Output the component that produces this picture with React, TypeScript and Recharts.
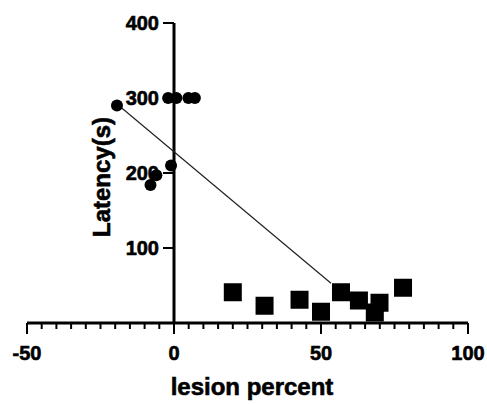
import { ScatterChart, Scatter, XAxis, YAxis, ReferenceLine } from 'recharts'

// sham group (circles)
const shamLesion = [-19.4, -2, 0.8, 4.9, 7.1, -1, -6, -8]
const shamLatency = [290, 300, 300, 300, 300, 210, 197, 184]

// lesion group (squares)
const lesionLesion = [20, 30.8, 42.7, 50, 56.8, 62.9, 69.9, 68.3, 77.9]
const lesionLatency = [41, 23, 31, 15, 41, 30, 27, 14, 47]

// fitted line end points
const fitLesion = [-19.4, 53.4]
const fitLatency = [292, 53]

const xTicks = [-50, -45, -40, -35, -30, -25, -20, -15, -10, -5, 0, 5, 10, 15, 20, 25, 30, 35, 40, 45, 50, 55, 60, 65, 70, 75, 80, 85, 90, 95, 100]
const xMajor = [-50, 0, 50, 100]
const yTicks = [100, 200, 300, 400]

const sham = shamLesion.map((x, i) => ({ x, y: shamLatency[i] }))
const lesion = lesionLesion.map((x, i) => ({ x, y: lesionLatency[i] }))
const fit = fitLesion.map((x, i) => ({ x, y: fitLatency[i] }))

const W = 487
const H = 405
const M = { top: 23, right: 19, bottom: 0, left: 26 }
const Y_AXIS_W = 1
const PLOT_L = M.left + Y_AXIS_W
const PLOT_W = W - PLOT_L - M.right
const X0 = PLOT_L + (PLOT_W * 50) / 150 // pixel of lesion = 0

const FONT = '"Liberation Sans", Arial, sans-serif'

const XTick = (p: any) => {
  const { x, y, payload } = p
  const major = xMajor.includes(payload.value)
  return (
    <g>
      <line x1={x} y1={y} x2={x} y2={y + (major ? 11 : 6)} stroke="#000" strokeWidth={2} />
      {major && (
        <text x={x} y={y + 37} textAnchor="middle" fontFamily={FONT} fontWeight="bold" fontSize={20}
          fill="#000" stroke="#000" strokeWidth={0.6}>
          {payload.value}
        </text>
      )}
    </g>
  )
}

const YTick = (p: any) => {
  const { y, payload } = p
  return (
    <g>
      <line x1={X0 - 11} y1={y} x2={X0} y2={y} stroke="#000" strokeWidth={2} />
      <text x={X0 - 15} y={y + 7} textAnchor="end" fontFamily={FONT} fontWeight="bold" fontSize={20}
        fill="#000" stroke="#000" strokeWidth={0.6}>
        {payload.value}
      </text>
    </g>
  )
}

const Circle = (p: any) => <circle cx={p.cx} cy={p.cy} r={6} fill="#000" />
const Square = (p: any) => <rect x={p.cx - 9} y={p.cy - 9} width={18} height={18} fill="#000" />

const titleStyle = {
  position: 'absolute' as const,
  fontFamily: FONT, fontWeight: 'bold', fontSize: 24, lineHeight: '24px',
  whiteSpace: 'nowrap' as const, color: '#000', WebkitTextStroke: '0.6px #000',
}

export default function App() {
  return (
    <div style={{ position: 'absolute', left: 0, top: 0, width: W, height: H, background: '#fff' }}>
      <ScatterChart width={W} height={H} margin={M}>
        <XAxis
          type="number"
          dataKey="x"
          domain={[-50, 100]}
          ticks={xTicks}
          interval={0}
          height={82}
          tickSize={0}
          tickMargin={0}
          tickLine={false}
          axisLine={{ stroke: '#000', strokeWidth: 3 }}
          tick={<XTick />}
        />
        <YAxis
          type="number"
          dataKey="y"
          domain={[0, 400]}
          ticks={yTicks}
          interval={0}
          width={Y_AXIS_W}
          tickSize={0}
          tickMargin={0}
          tickLine={false}
          axisLine={false}
          tick={<YTick />}
        />
        <ReferenceLine x={0} stroke="#000" strokeWidth={3} />
        <Scatter data={fit} line={{ stroke: '#222', strokeWidth: 1.2 }} shape={() => <g />} isAnimationActive={false} />
        <Scatter data={sham} shape={<Circle />} isAnimationActive={false} />
        <Scatter data={lesion} shape={<Square />} isAnimationActive={false} />
      </ScatterChart>
      <div style={{ ...titleStyle, left: 101.5, top: 177, transform: 'translate(-50%, -50%) rotate(-90deg)' }}>
        Latency(s)
      </div>
      <div style={{ ...titleStyle, left: 252, top: 375, transform: 'translateX(-50%)' }}>
        lesion percent
      </div>
    </div>
  )
}
